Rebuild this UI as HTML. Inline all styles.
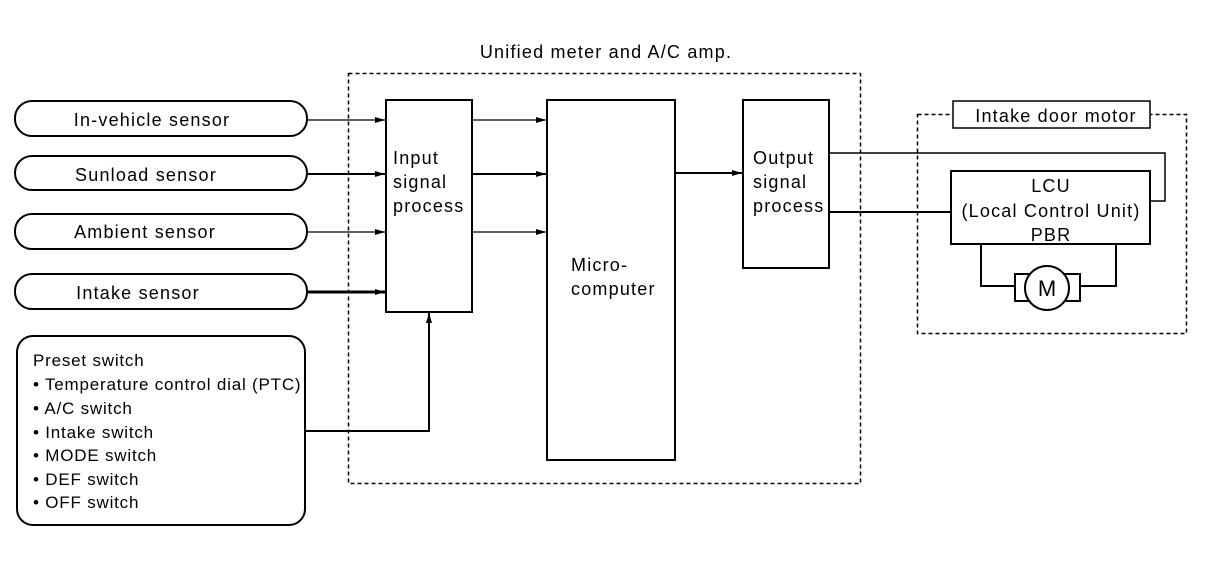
<!DOCTYPE html>
<html><head><meta charset="utf-8"><style>
html,body{margin:0;padding:0;background:#fff;}
svg{display:block;}
text{font-family:"Liberation Sans",sans-serif;font-size:18px;letter-spacing:1.2px;fill:#000;}
.p{font-size:17px;letter-spacing:0.8px;}
</style></head><body>
<svg width="1216" height="582" viewBox="0 0 1216 582" xmlns="http://www.w3.org/2000/svg">
<defs>
<marker id="a" markerWidth="10" markerHeight="8" refX="10" refY="4" orient="auto" markerUnits="userSpaceOnUse">
<path d="M0,1 L10,4 L0,7 z" fill="#000"/></marker>
</defs>
<g fill="none" stroke="#000">
<rect x="348.5" y="73.5" width="512" height="410" stroke-width="1.5" stroke-dasharray="4,3"/>
<rect x="917.5" y="114.5" width="269" height="219" stroke-width="1.5" stroke-dasharray="4,3"/>
<rect x="15" y="101" width="292" height="35" rx="17" stroke-width="2"/>
<rect x="15" y="156" width="292" height="34" rx="17" stroke-width="2"/>
<rect x="15" y="214" width="292" height="35" rx="17" stroke-width="2"/>
<rect x="15" y="274" width="292" height="35" rx="17" stroke-width="2"/>
<rect x="17" y="336" width="288" height="189" rx="16" stroke-width="2"/>
<rect x="386" y="100" width="86" height="212" stroke-width="2"/>
<rect x="547" y="100" width="128" height="360" stroke-width="2"/>
<rect x="743" y="100" width="86" height="168" stroke-width="2"/>
<rect x="951" y="171" width="199" height="73" stroke-width="2"/>
<rect x="953" y="101" width="197" height="27" stroke-width="1.5" fill="#fff"/>
<line x1="307" y1="120" x2="385" y2="120" stroke-width="1.2" marker-end="url(#a)"/>
<line x1="307" y1="174" x2="385" y2="174" stroke-width="2" marker-end="url(#a)"/>
<line x1="307" y1="232" x2="385" y2="232" stroke-width="1.2" marker-end="url(#a)"/>
<line x1="307" y1="292" x2="385" y2="292" stroke-width="3" marker-end="url(#a)"/>
<line x1="472" y1="120" x2="546" y2="120" stroke-width="1.2" marker-end="url(#a)"/>
<line x1="472" y1="174" x2="546" y2="174" stroke-width="2" marker-end="url(#a)"/>
<line x1="472" y1="232" x2="546" y2="232" stroke-width="1.2" marker-end="url(#a)"/>
<line x1="675" y1="173" x2="742" y2="173" stroke-width="2" marker-end="url(#a)"/>
<polyline points="305,431 429,431 429,313" stroke-width="2" marker-end="url(#a)"/>
<polyline points="829,153 1165,153 1165,201 1150,201" stroke-width="1.5"/>
<line x1="829" y1="212" x2="951" y2="212" stroke-width="2"/>
<polyline points="981,244 981,286 1015,286" stroke-width="2"/>
<polyline points="1116,244 1116,286 1080,286" stroke-width="2"/>
<rect x="1015" y="274" width="65" height="27" stroke-width="2"/>
<circle cx="1047" cy="288" r="22" stroke-width="2" fill="#fff"/>
</g>
<text x="606" y="58" text-anchor="middle">Unified meter and A/C amp.</text>
<text x="152" y="126" text-anchor="middle">In-vehicle sensor</text>
<text x="146" y="181" text-anchor="middle">Sunload sensor</text>
<text x="145" y="238" text-anchor="middle">Ambient sensor</text>
<text x="138" y="299" text-anchor="middle">Intake sensor</text>
<text x="33" y="366" class="p">Preset switch</text>
<text x="33" y="390" class="p">• Temperature control dial (PTC)</text>
<text x="33" y="414" class="p">• A/C switch</text>
<text x="33" y="438" class="p">• Intake switch</text>
<text x="33" y="461" class="p">• MODE switch</text>
<text x="33" y="485" class="p">• DEF switch</text>
<text x="33" y="508" class="p">• OFF switch</text>
<text x="393" y="164">Input</text>
<text x="393" y="188">signal</text>
<text x="393" y="212">process</text>
<text x="571" y="271">Micro-</text>
<text x="571" y="295">computer</text>
<text x="753" y="164">Output</text>
<text x="753" y="188">signal</text>
<text x="753" y="212">process</text>
<text x="1056" y="122" text-anchor="middle">Intake door motor</text>
<text x="1051" y="192" text-anchor="middle">LCU</text>
<text x="1051" y="217" text-anchor="middle">(Local Control Unit)</text>
<text x="1051" y="241" text-anchor="middle">PBR</text>
<text x="1047" y="296" text-anchor="middle" style="font-size:22px;letter-spacing:0">M</text>
</svg>
</body></html>
